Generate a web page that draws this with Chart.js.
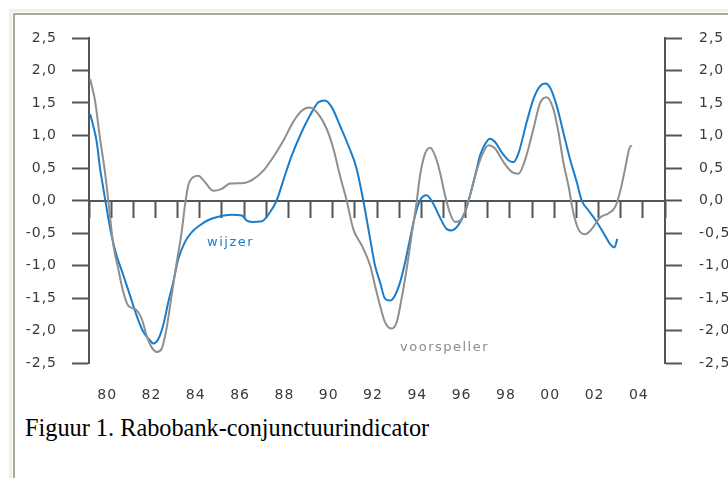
<!DOCTYPE html>
<html lang="nl">
<head>
<meta charset="utf-8">
<script src="https://cdn.jsdelivr.net/npm/chart.js@4/dist/chart.umd.min.js"></script>
<style>
  html, body { margin: 0; padding: 0; background: #fff; }
  body { width: 728px; height: 478px; position: relative; overflow: hidden; }
  #kader1 { position: absolute; left: 9px; top: 9px; width: 740px; height: 490px; border-left: 3px solid #f2efe3; border-top: 3px solid #f2efe3; }
  #kader2 { position: absolute; left: 13px; top: 13px; width: 740px; height: 490px; border-left: 2px solid #aca899; border-top: 2px solid #aca899; }
  #grafiek { position: absolute; left: 0; top: 0; }
  #bijschrift { position: absolute; left: 25px; top: 416px; font: 24.3px/24px 'Liberation Serif', 'Times New Roman', serif; color: #000; white-space: nowrap; }
</style>
</head>
<body>
<div id="kader1"></div>
<div id="kader2"></div>
<canvas id="grafiek" width="728" height="410" style="width:728px;height:410px"></canvas>
<div id="bijschrift">Figuur 1. Rabobank-conjunctuurindicator</div>
<script>
// ── Gegevens ───────────────────────────────────────────────────────────────

const wijzerJaar = [
  1979.05, 1979.19, 1979.35, 1979.5, 1979.65, 1979.8, 1980.02, 1980.25, 1980.55, 1980.85,
  1981.15, 1981.45, 1981.75, 1981.9, 1982.13, 1982.35, 1982.58, 1982.8, 1983.03, 1983.33,
  1983.63, 1984.01, 1984.39, 1984.84, 1985.44, 1985.9, 1986.12, 1986.35, 1986.8, 1987.17,
  1987.47, 1987.77, 1988.15, 1988.53, 1988.98, 1989.35, 1989.65, 1989.95, 1990.33, 1990.7,
  1991.08, 1991.38, 1991.69, 1991.91, 1992.14, 1992.36, 1992.59, 1992.81, 1993.04, 1993.27,
  1993.49, 1993.72, 1993.94, 1994.24, 1994.54, 1994.84, 1995.15, 1995.37, 1995.67, 1995.97,
  1996.2, 1996.43, 1996.65, 1996.88, 1997.1, 1997.33, 1997.63, 1997.93, 1998.16, 1998.38,
  1998.76, 1999.06, 1999.36, 1999.59, 1999.81, 2000.11, 2000.41, 2000.71, 2001.02, 2001.24,
  2001.54, 2001.92, 2002.29, 2002.52, 2002.72, 2002.85,
]
const wijzerWaarde = [
  1.33, 1.15, 0.9, 0.49, 0.18, -0.13, -0.54, -0.85, -1.15, -1.46,
  -1.77, -2.02, -2.15, -2.2, -2.13, -1.92, -1.56, -1.26, -0.9, -0.64,
  -0.49, -0.38, -0.3, -0.25, -0.22, -0.23, -0.31, -0.33, -0.32, -0.18,
  0, 0.31, 0.69, 1.0, 1.31, 1.51, 1.54, 1.44, 1.15, 0.85,
  0.49, 0, -0.59, -1.0, -1.26, -1.51, -1.54, -1.46, -1.26, -0.95,
  -0.59, -0.23, 0, 0.08, -0.05, -0.26, -0.44, -0.46, -0.38, -0.18,
  0.08, 0.38, 0.69, 0.87, 0.95, 0.9, 0.74, 0.62, 0.59, 0.72,
  1.21, 1.56, 1.76, 1.8, 1.74, 1.46, 1.05, 0.64, 0.28, 0,
  -0.15, -0.33, -0.54, -0.67, -0.72, -0.59,
]

const voorspellerJaar = [
  1979.05, 1979.27, 1979.5, 1979.72, 1979.87, 1980.1, 1980.32, 1980.55, 1980.78, 1981.08,
  1981.38, 1981.6, 1981.83, 1982.06, 1982.28, 1982.5, 1982.73, 1982.96, 1983.18, 1983.33,
  1983.48, 1983.71, 1983.93, 1984.24, 1984.61, 1984.99, 1985.37, 1985.97, 1986.42, 1986.87,
  1987.32, 1987.77, 1988.22, 1988.6, 1988.97, 1989.35, 1989.73, 1990.03, 1990.33, 1990.63,
  1990.93, 1991.31, 1991.69, 1991.91, 1992.14, 1992.36, 1992.67, 1992.89, 1993.11, 1993.34,
  1993.56, 1993.79, 1993.94, 1994.17, 1994.4, 1994.62, 1994.84, 1995.07, 1995.3, 1995.52,
  1995.75, 1995.97, 1996.2, 1996.43, 1996.73, 1997.03, 1997.33, 1997.71, 1998.08, 1998.38,
  1998.68, 1999.06, 1999.36, 1999.66, 1999.96, 2000.19, 2000.41, 2000.64, 2000.86, 2001.09,
  2001.39, 2001.69, 2002.07, 2002.44, 2002.75, 2002.97, 2003.2, 2003.39, 2003.5,
]
const voorspellerWaarde = [
  1.87, 1.54, 0.95, 0.44, 0, -0.69, -1.05, -1.41, -1.62, -1.67,
  -1.82, -2.08, -2.26, -2.33, -2.28, -1.97, -1.46, -0.95, -0.49, -0.08,
  0.23, 0.36, 0.38, 0.28, 0.15, 0.18, 0.26, 0.27, 0.33, 0.46,
  0.67, 0.92, 1.21, 1.38, 1.43, 1.33, 1.1, 0.8, 0.38, 0,
  -0.44, -0.69, -1.0, -1.31, -1.62, -1.87, -1.97, -1.87, -1.51, -1.05,
  -0.54, -0.02, 0.38, 0.72, 0.81, 0.69, 0.44, 0.08, -0.2, -0.33,
  -0.31, -0.18, 0.08, 0.38, 0.69, 0.85, 0.8, 0.59, 0.44, 0.41,
  0.62, 1.1, 1.5, 1.59, 1.41, 1.05, 0.59, 0.23, -0.18, -0.44,
  -0.52, -0.44, -0.26, -0.2, -0.1, 0.13, 0.49, 0.8, 0.85,
]

const labelJaren = [1980, 1982, 1984, 1986, 1988, 1990, 1992, 1994, 1996, 1998, 2000, 2002, 2004]
const jaarLabels = ['80', '82', '84', '86', '88', '90', '92', '94', '96', '98', '00', '02', '04']

// namen van de lijnen, in de figuur zelf geplaatst (jaar / waarde)
const lijnNamen = [
  { tekst: 'wijzer', jaar: 1984.33, waarde: -0.65, kleur: '#1a7dcc' },
  { tekst: 'voorspeller', jaar: 1993.04, waarde: -2.27, kleur: '#8c8c8c' },
]

// ── Stijl ──────────────────────────────────────────────────────────────────

const BLAUW = '#1a7dcc'
const GRIJS = '#8f8f8f'
const AS = '#555555'
const TEKST = '#3a3a3a'
const FONT = { family: "'DejaVu Sans', sans-serif", size: 14 }

const punten = (jaren, waarden) => jaren.map((j, i) => ({ x: j, y: waarden[i] }))
const komma = (v) => v.toFixed(1).replace('.', ',')

// letterafstand zoals in het origineel
const letterafstand = {
  id: 'letterafstand',
  beforeLayout(chart) { chart.ctx.letterSpacing = '1px' },
  beforeDraw(chart) { chart.ctx.letterSpacing = '1px' },
}

const namenPlugin = {
  id: 'namen',
  afterDatasetsDraw(chart) {
    const { ctx, scales } = chart
    ctx.save()
    ctx.font = "13px 'DejaVu Sans', sans-serif"
    ctx.letterSpacing = '1.5px'
    ctx.textBaseline = 'middle'
    ctx.textAlign = 'left'
    lijnNamen.forEach((n) => {
      ctx.fillStyle = n.kleur
      ctx.fillText(n.tekst, scales.x.getPixelForValue(n.jaar), scales.y.getPixelForValue(n.waarde))
    })
    ctx.restore()
  },
}

const yAs = (positie, breedte, padding) => ({
  position: positie,
  min: -2.5,
  max: 2.5,
  ticks: { stepSize: 0.5, padding, font: FONT, color: TEKST, callback: komma },
  grid: { drawOnChartArea: false, tickLength: 17, tickWidth: 2, tickColor: AS },
  border: { color: AS, width: 2 },
  afterFit: (s) => { s.width = breedte },
})

new Chart(document.getElementById('grafiek'), {
  type: 'line',
  data: {
    datasets: [
      {
        label: 'voorspeller',
        data: punten(voorspellerJaar, voorspellerWaarde),
        borderColor: GRIJS,
        borderWidth: 2,
        pointRadius: 0,
        cubicInterpolationMode: 'monotone',
        yAxisID: 'y',
        xAxisID: 'x',
      },
      {
        label: 'wijzer',
        data: punten(wijzerJaar, wijzerWaarde),
        borderColor: BLAUW,
        borderWidth: 2,
        pointRadius: 0,
        cubicInterpolationMode: 'monotone',
        yAxisID: 'y',
        xAxisID: 'x',
      },
    ],
  },
  options: {
    responsive: false,
    animation: false,
    layout: { padding: { top: 38, left: 0, right: 0, bottom: 0 } },
    plugins: { legend: { display: false }, tooltip: { enabled: false } },
    scales: {
      x: {
        type: 'linear',
        position: 'bottom',
        min: 1979,
        max: 2005,
        border: { display: false },
        grid: { display: false },
        ticks: {
          stepSize: 1,
          maxTicksLimit: 40,
          autoSkip: false,
          maxRotation: 0,
          padding: 16,
          labelOffset: -4,
          font: FONT,
          color: TEKST,
          callback: (v) => {
            const i = labelJaren.indexOf(Math.round(v))
            return i >= 0 ? jaarLabels[i] : ''
          },
        },
        afterFit: (s) => { s.height = 47 },
      },
      xNul: {
        type: 'linear',
        axis: 'x',
        position: { y: 0 },
        min: 1979,
        max: 2005,
        ticks: { display: false, stepSize: 1, maxTicksLimit: 40 },
        grid: { drawOnChartArea: false, tickLength: 16, tickWidth: 2, tickColor: AS },
        border: { color: AS, width: 2 },
      },
      y: yAs('left', 89, 15),
      y2: yAs('right', 63, 17),
    },
  },
  plugins: [letterafstand, namenPlugin],
})
</script>
</body>
</html>
